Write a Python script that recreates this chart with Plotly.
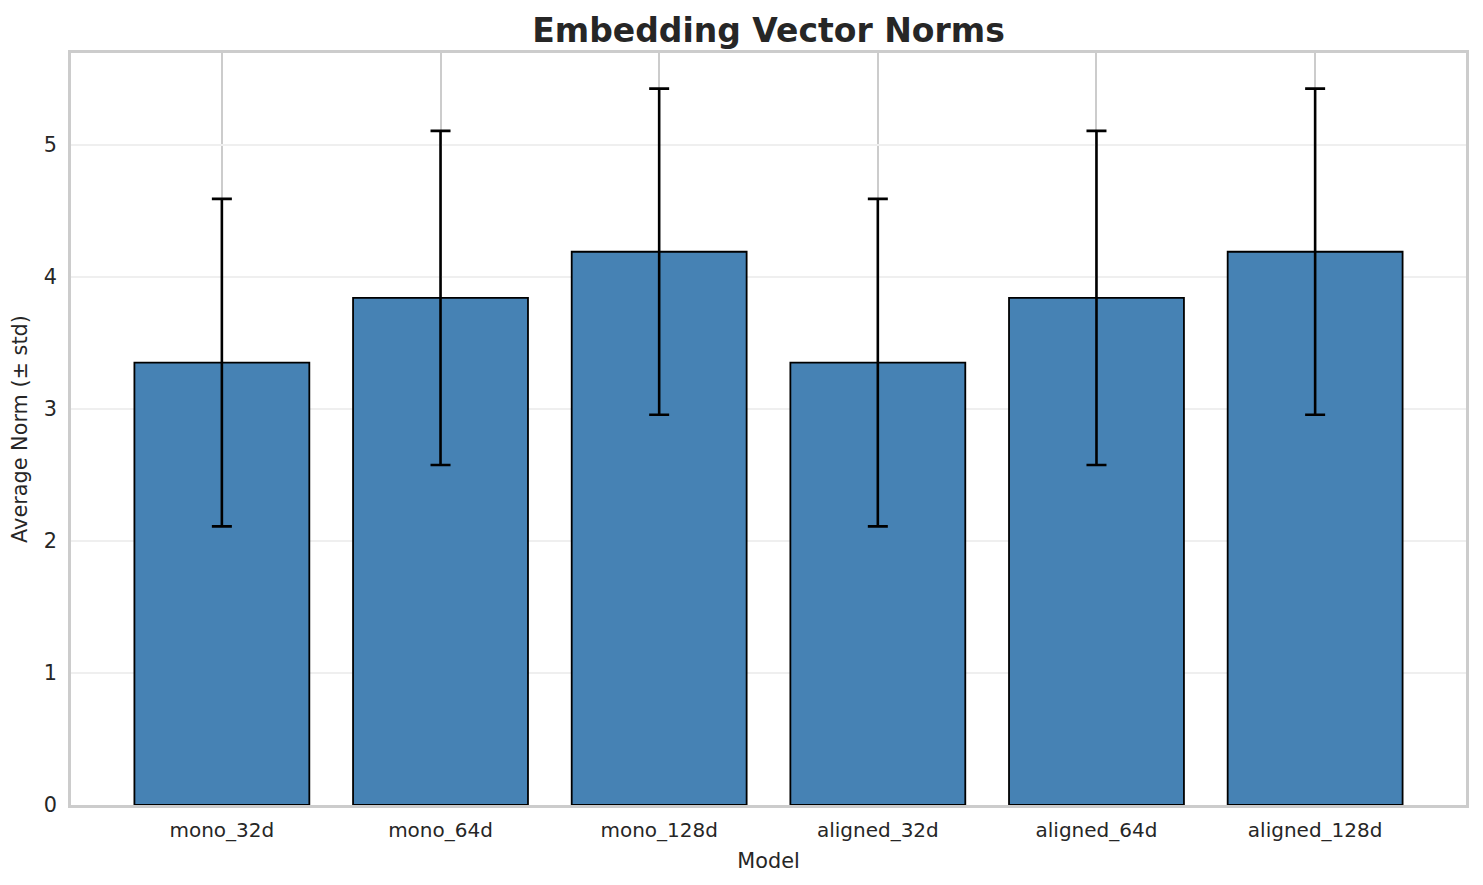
import plotly.graph_objects as go

models = ["mono_32d", "mono_64d", "mono_128d", "aligned_32d", "aligned_64d", "aligned_128d"]
mean_norms = [3.35, 3.84, 4.19, 3.35, 3.84, 4.19]
std_norms = [1.24, 1.265, 1.235, 1.24, 1.265, 1.235]
y_ticks = [0, 1, 2, 3, 4, 5]

FONT = "DejaVu Sans"
TXT = "#262626"

# page body has an 8px margin; the figure div starts at (8, 8)
W, H = 1467, 869

fig = go.Figure()
fig.add_trace(go.Bar(
    x=models,
    y=mean_norms,
    width=0.8,
    marker=dict(color="#4682b4", line=dict(color="black", width=1.8)),
    error_y=dict(type="data", array=std_norms, visible=True,
                 color="black", thickness=2.6, width=10),
))

fig.update_layout(
    width=W, height=H,
    margin=dict(l=63, r=6, t=45, b=72),
    paper_bgcolor="white", plot_bgcolor="white",
    font=dict(family=FONT, size=21, color=TXT),
    showlegend=False,
    title=dict(text="<b>Embedding Vector Norms</b>", x=0.5, xref="paper",
               y=1 - 22 / H, yref="container", yanchor="middle",
               font=dict(family=FONT, size=33, color=TXT)),
)

fig.update_xaxes(
    type="category", range=[-0.69, 5.69],
    showgrid=True, gridcolor="#cccccc", gridwidth=2,
    showline=True, linecolor="#cccccc", linewidth=2.5, mirror=True,
    ticks="outside", ticklen=5, tickcolor="rgba(0,0,0,0)",
    tickfont=dict(family=FONT, size=20, color=TXT),
    title=dict(text="Model", font=dict(family=FONT, size=20.8, color=TXT), standoff=13),
    zeroline=False,
)
fig.update_yaxes(
    range=[0, 5.695], tickvals=y_ticks,
    showgrid=True, gridcolor="#efefef", gridwidth=2,
    showline=True, linecolor="#cccccc", linewidth=2.5, mirror=True,
    ticks="outside", ticklen=7, tickcolor="rgba(0,0,0,0)",
    tickfont=dict(family=FONT, size=20.8, color=TXT),
    title=dict(text="Average Norm (± std)", font=dict(family=FONT, size=20.8, color=TXT), standoff=12),
    zeroline=False,
)

fig.write_html("out.html")
